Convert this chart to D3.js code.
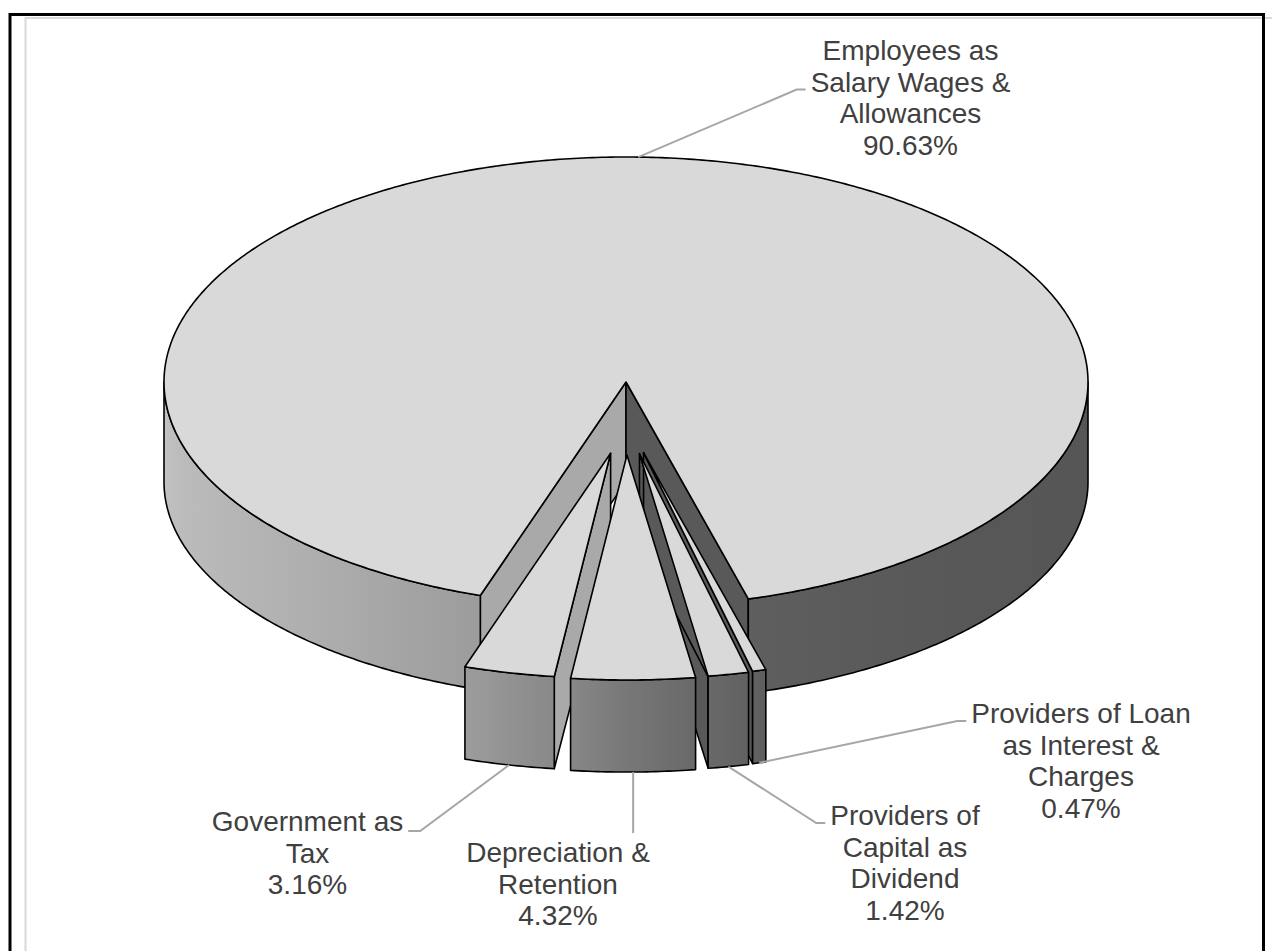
<!DOCTYPE html>
<html><head><meta charset="utf-8">
<script src="https://cdn.jsdelivr.net/npm/d3@7"></script>
<style>body{margin:0;background:#fff} svg{display:block}</style>
</head><body><svg id="c" width="1272" height="951"></svg>
<script>
// ---- data ----
const categories = ["Employees as Salary Wages & Allowances","Government as Tax","Depreciation & Retention","Providers of Capital as Dividend","Providers of Loan as Interest & Charges"];
const labelLines = [["Employees as","Salary Wages &","Allowances"],["Government as","Tax"],["Depreciation &","Retention"],["Providers of","Capital as","Dividend"],["Providers of Loan","as Interest &","Charges"]];
const values = [90.63, 3.16, 4.32, 1.42, 0.47];
const percentLabels = ["90.63%","3.16%","4.32%","1.42%","0.47%"];

// ---- layout ----
const W = 1272, H = 951;
const cx = 626, cy = 382, rx = 462, ry = 225;
const explodeX = 70, explodeY = 73;
const A0 = Math.PI - 15.35*Math.PI/180;
const depth = y => 100 - 6*(y - cy)/ry;
const labelLayout = [
  {x:910.5, y:60,  side:"left",  line:1},
  {x:307.5, y:831, side:"right", line:0},
  {x:558,   y:862, side:"top",   line:0},
  {x:905,   y:825, side:"left",  line:0},
  {x:1081,  y:723, side:"left",  line:0}
];
const lineH = 31.6;

const svg = d3.select("#c");
const defs = svg.append("defs");

svg.append("rect").attr("x",25.5).attr("y",18).attr("width",1300).attr("height",1000)
  .attr("fill","none").attr("stroke","#d9d9d9").attr("stroke-width",2);
svg.append("rect").attr("x",10).attr("y",14.5).attr("width",1253.5).attr("height",1000)
  .attr("fill","none").attr("stroke","#000").attr("stroke-width",3);

const P = (a, r, o) => [cx + o.x + r*rx*Math.sin(a), cy + o.y - r*ry*Math.cos(a)];
const B = p => [p[0], p[1] + depth(p[1])];
function arcPoints(a0, a1, o){
  const n = Math.max(4, Math.ceil(Math.abs(a1-a0)/0.01));
  return d3.range(n+1).map(k => P(a0 + (a1-a0)*k/n, 1, o));
}
const poly = d3.line().curve(d3.curveLinearClosed);
const line = d3.line();

const shade = d3.scaleLinear()
  .domain([-90,-45,-18,-7,0,8,15,40,90])
  .range(["#c3c3c3","#b0b0b0","#9c9c9c","#888888","#777777","#6a6a6a","#5f5f5f","#585858","#555555"]);

const pie = d3.pie().sort(null).value(d=>d).startAngle(A0).endAngle(A0 - 2*Math.PI);
const slices = pie(values).map((d,i)=>{
  const lo = Math.min(d.startAngle,d.endAngle), hi = Math.max(d.startAngle,d.endAngle);
  const mid = (lo+hi)/2;
  const ex = i > 0;
  const o = ex ? {x: explodeX*Math.sin(mid), y: -explodeY*Math.cos(mid)} : {x:0,y:0};
  return {i, lo, hi, mid, o, ex};
});

const stroke = "#000", sw = 1.6;
let gid = 0;
function drawFaces(g, s){
  const apex = P(0,0,s.o);
  if (Math.sin(s.lo) < 0) {
    const p = P(s.lo,1,s.o);
    g.append("path").attr("d", poly([apex, p, B(p), B(apex)]))
      .attr("fill","#a9a9a9").attr("stroke",stroke).attr("stroke-width",sw).attr("stroke-linejoin","round");
  }
  if (Math.sin(s.hi) > 0) {
    const p = P(s.hi,1,s.o);
    g.append("path").attr("d", poly([apex, p, B(p), B(apex)]))
      .attr("fill","#595959").attr("stroke",stroke).attr("stroke-width",sw).attr("stroke-linejoin","round");
  }
}
function drawWalls(g, s){
  for (let k=-2;k<=2;k++){
    const L = Math.max(s.lo, Math.PI/2 + 2*Math.PI*k), Hh = Math.min(s.hi, 3*Math.PI/2 + 2*Math.PI*k);
    if (Hh <= L) continue;
    const top = arcPoints(L, Hh, s.o);
    const bot = top.map(B).reverse();
    const xs = top.map(p=>p[0]);
    const x1 = d3.min(xs), x2 = d3.max(xs);
    const id = "wg"+(gid++);
    const grad = defs.append("linearGradient").attr("id",id).attr("gradientUnits","userSpaceOnUse")
      .attr("x1",x1).attr("x2",x2).attr("y1",0).attr("y2",0);
    const stops = d3.range(9).map(t=>{
      const a = L + (Hh-L)*t/8;
      let th = (Math.PI - a)*180/Math.PI;
      th = ((th+180)%360+360)%360-180;
      const x = P(a,1,s.o)[0];
      return {off: x2>x1 ? (x-x1)/(x2-x1) : 0, c: shade(th)};
    }).sort((p,q)=>p.off-q.off);
    stops.forEach(st=>grad.append("stop").attr("offset", st.off).attr("stop-color", st.c));
    g.append("path").attr("d", poly(top.concat(bot)))
      .attr("fill","url(#"+id+")").attr("stroke",stroke).attr("stroke-width",sw).attr("stroke-linejoin","round");
  }
}
function drawTop(g, s){
  const apex = P(0,0,s.o);
  g.append("path").attr("d", poly([apex].concat(arcPoints(s.hi, s.lo, s.o))))
    .attr("fill","#d9d9d9").attr("stroke",stroke).attr("stroke-width",sw).attr("stroke-linejoin","round");
}

const gPie = svg.append("g");
[false,true].forEach(flag=>{
  const grp = slices.filter(s=>s.ex===flag);
  grp.forEach(s=>drawFaces(gPie,s));
  grp.forEach(s=>drawWalls(gPie,s));
  grp.forEach(s=>drawTop(gPie,s));
});

// ---- labels & leaders ----
const gLab = svg.append("g");
slices.forEach((s,i)=>{
  const L = labelLayout[i];
  const lines = labelLines[i].concat([percentLabels[i]]);
  const t = gLab.append("text").attr("text-anchor","middle")
    .attr("font-family","'Liberation Sans', Arial, sans-serif").attr("font-size",28).attr("fill","#404040");
  const tsp = lines.map((ln,k)=> t.append("tspan").attr("x",L.x).attr("y",L.y + k*lineH).text(ln));
  const front = -Math.cos(s.mid) > 0;
  const top = P(s.mid,1,s.o);
  const start = front ? B(top) : top;
  let pts;
  if (L.side === "top") {
    pts = [start, [start[0], L.y - 29]];
  } else {
    const w = tsp[L.line].node().getComputedTextLength();
    const by = L.y + L.line*lineH;
    if (L.side === "left") {
      const end = [L.x - w/2 - 5, by - 2];
      pts = [start, [end[0]-9, end[1]], end];
    } else {
      const end = [L.x + w/2 + 5, by];
      pts = [start, [end[0]+12, end[1]], end];
    }
  }
  svg.append("path").attr("d", line(pts)).attr("fill","none")
    .attr("stroke","#a6a6a6").attr("stroke-width",2);
});
</script>
</body></html>
